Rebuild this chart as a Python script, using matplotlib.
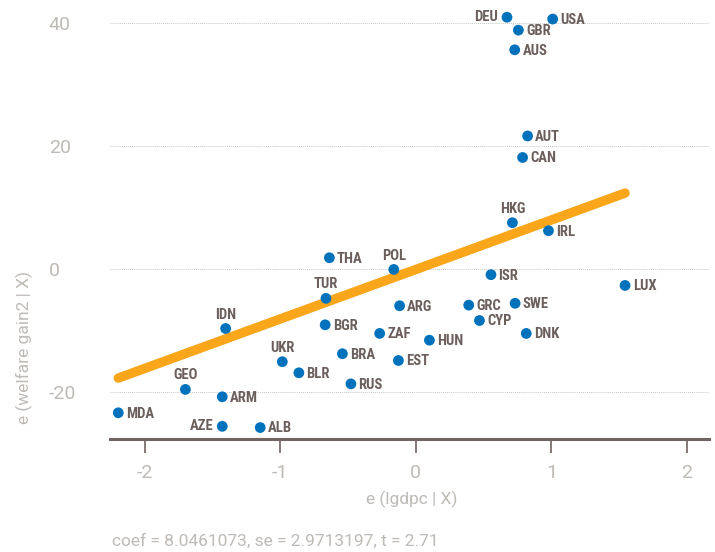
import matplotlib
matplotlib.use("Agg")
import matplotlib.pyplot as plt
from matplotlib import font_manager

# Added-variable plot: residual welfare gain vs residual log GDP per capita
countries = ["DEU", "USA", "GBR", "AUS", "AUT", "CAN", "HKG", "IRL", "THA", "POL",
             "ISR", "LUX", "TUR", "ARG", "GRC", "SWE", "CYP", "BGR", "IDN", "ZAF",
             "DNK", "HUN", "BRA", "EST", "UKR", "BLR", "RUS", "GEO", "ARM", "MDA",
             "AZE", "ALB"]
e_lgdpc = [0.672, 1.009, 0.756, 0.729, 0.824, 0.787, 0.712, 0.978, -0.638, -0.163,
           0.554, 1.543, -0.663, -0.120, 0.390, 0.732, 0.469, -0.669, -1.403, -0.267,
           0.814, 0.100, -0.542, -0.129, -0.985, -0.863, -0.479, -1.700, -1.428, -2.195,
           -1.428, -1.148]
e_welfare = [41.0, 40.7, 38.9, 35.7, 21.7, 18.2, 7.6, 6.3, 1.9, 0.0,
             -0.85, -2.6, -4.7, -5.9, -5.8, -5.5, -8.3, -9.0, -9.6, -10.4,
             -10.4, -11.5, -13.7, -14.8, -15.0, -16.8, -18.6, -19.5, -20.7, -23.3,
             -25.5, -25.7]
# label side: r = right of point, l = left, t = above
label_side = ["l", "r", "r", "r", "r", "r", "t", "r", "r", "t",
              "r", "r", "t", "r", "r", "r", "r", "r", "t", "r",
              "r", "r", "r", "r", "t", "r", "r", "t", "r", "r",
              "l", "r"]
coef = 8.0461073
se = 2.9713197
t_stat = 2.71
xticks = [-2, -1, 0, 1, 2]
yticks = [-20, 0, 20, 40]


def pick_font(cands):
    names = {f.name for f in font_manager.fontManager.ttflist}
    for c in cands:
        if c in names:
            return c
    return "DejaVu Sans"


light_font = pick_font(["Roboto", "Lato", "Liberation Sans", "DejaVu Sans"])
label_font = pick_font(["Liberation Sans Narrow", "Roboto Condensed",
                        "Open Sans Condensed", "DejaVu Sans Condensed",
                        "Roboto", "Liberation Sans"])

DOT = "#0072BC"
LINE = "#F9A61A"
LABEL = "#6B5F5B"
SPINE = "#6E6461"
TICKTXT = "#BEBAB6"

W, H = 715, 552
fig = plt.figure(figsize=(W / 100, H / 100), dpi=100)
ax = fig.add_axes([110 / W, 1 - 439 / H, (709 - 110) / W, 439 / H])

ax.set_xlim(-2.256, 2.162)
ax.set_ylim(-27.56, 43.8)

for s in ["top", "right", "left"]:
    ax.spines[s].set_visible(False)
ax.spines["bottom"].set_color(SPINE)
ax.spines["bottom"].set_linewidth(2.2)

ax.set_yticks(yticks)
ax.set_yticklabels([str(v) for v in yticks])
ax.set_xticks(xticks)
ax.set_xticklabels([str(v) for v in xticks])
ax.tick_params(axis="y", length=0, pad=44, labelsize=14, labelcolor=TICKTXT)
for lab in ax.get_yticklabels():
    lab.set_horizontalalignment("left")
    lab.set_fontfamily(light_font)
ax.tick_params(axis="x", length=10, width=1.2, color=SPINE, pad=8,
               labelsize=14, labelcolor=TICKTXT)
for lab in ax.get_xticklabels():
    lab.set_fontfamily(light_font)

ax.grid(axis="y", color="#C8C8C8", linestyle=(0, (1, 1)), linewidth=0.7)
ax.set_axisbelow(True)

# fitted line through the origin with the partial slope
xmin, xmax = min(e_lgdpc), max(e_lgdpc)
ax.plot([xmin, xmax], [coef * xmin, coef * xmax], color=LINE, linewidth=6.8,
        solid_capstyle="round", zorder=2)

ax.scatter(e_lgdpc, e_welfare, s=60, color=DOT, edgecolors="none", zorder=3)

for name, xv, yv, side in zip(countries, e_lgdpc, e_welfare, label_side):
    if side == "r":
        off, ha, va = (5.5, -0.6), "left", "center"
    elif side == "l":
        off, ha, va = (-6.5, 0.3), "right", "center"
    else:
        off, ha, va = (0, 5), "center", "bottom"
    ax.annotate(name, (xv, yv), xytext=off, textcoords="offset points",
                ha=ha, va=va, fontsize=10.5, fontweight="bold", color=LABEL,
                fontfamily=label_font, zorder=4)

fig.text(412 / W, 1 - 499 / H, "e (lgdpc | X)", ha="center", va="center",
         fontsize=12.5, color=TICKTXT, fontfamily=light_font)
fig.text(24 / W, 1 - 347 / H, "e (welfare gain2 | X)", ha="center", va="center",
         rotation=90, fontsize=12.5, color=TICKTXT, fontfamily=light_font)
fig.text(112 / W, 1 - 541 / H,
         f"coef = {coef:.7f}, se = {se:.7f}, t = {t_stat:.2f}",
         ha="left", va="center", fontsize=12.5, color=TICKTXT,
         fontfamily=light_font)

fig.savefig("out.png", dpi=100)
